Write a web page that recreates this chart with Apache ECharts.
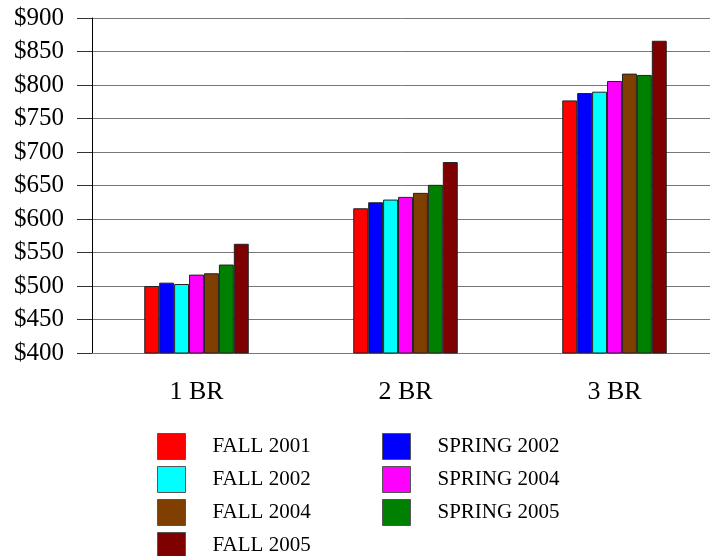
<!DOCTYPE html>
<html>
<head>
<meta charset="utf-8">
<script src="https://cdn.jsdelivr.net/npm/echarts@6/dist/echarts.min.js"></script>
<style>
  html, body { margin: 0; padding: 0; background: #fff; }
  #chart { width: 710px; height: 556px; }
</style>
</head>
<body>
<div id="chart"></div>
<script>
// bedroom size categories
const categories = ['1 BR', '2 BR', '3 BR']

// average rent per survey
const fall2001 = [500, 616, 777]
const spring2002 = [505, 625, 788]
const fall2002 = [503, 629, 790]
const spring2004 = [517, 633, 806]
const fall2004 = [519, 639, 817]
const spring2005 = [532, 651, 815]
const fall2005 = [563, 685, 866]

const seriesNames = ['FALL 2001', 'SPRING 2002', 'FALL 2002', 'SPRING 2004', 'FALL 2004', 'SPRING 2005', 'FALL 2005']
const seriesData = [fall2001, spring2002, fall2002, spring2004, fall2004, spring2005, fall2005]
const colors = ['#ff0000', '#0000ff', '#00ffff', '#ff00ff', '#7f3f00', '#008000', '#7f0000']

const font = 'Liberation Serif, Times New Roman, serif'

const myChart = echarts.init(document.getElementById('chart'))

const legendBase = {
  orient: 'vertical',
  top: 433,
  padding: 0,
  height: 130,
  itemWidth: 28,
  itemHeight: 26,
  itemGap: 6,
  icon: 'rect',
  itemStyle: { borderColor: '#555', borderWidth: 1 },
  textStyle: {
    fontFamily: font,
    fontSize: 21,
    color: '#000',
    padding: [0, 0, 0, 22]
  }
}

const option = {
  animation: false,
  color: colors,
  grid: {
    left: 92,
    top: 18,
    bottom: 203,
    width: 627,
    outerBoundsMode: 'none'
  },
  legend: [
    Object.assign({}, legendBase, { left: 157, data: ['FALL 2001', 'FALL 2002', 'FALL 2004', 'FALL 2005'] }),
    Object.assign({}, legendBase, { left: 382, data: ['SPRING 2002', 'SPRING 2004', 'SPRING 2005'] })
  ],
  xAxis: {
    type: 'category',
    data: categories,
    axisLine: { lineStyle: { color: '#777' } },
    axisTick: { alignWithLabel: true, length: 12, lineStyle: { color: '#333' } },
    axisLabel: {
      margin: 26,
      fontFamily: font,
      fontSize: 26,
      color: '#000'
    }
  },
  yAxis: {
    type: 'value',
    min: 400,
    max: 900,
    interval: 50,
    axisLine: { show: true, lineStyle: { color: '#000' } },
    axisTick: { show: true, length: 15, lineStyle: { color: '#333' } },
    splitLine: { show: true, lineStyle: { color: '#777' } },
    axisLabel: {
      margin: 28,
      fontFamily: font,
      fontSize: 25,
      color: '#000',
      formatter: function(val) {
        return '$' + val
      }
    }
  },
  series: []
}

for (let i = 0; i < seriesNames.length; i++) {
  option.series.push({
    type: 'bar',
    name: seriesNames[i],
    data: seriesData[i],
    barGap: '0%',
    barCategoryGap: '50%',
    itemStyle: { borderColor: '#222', borderWidth: 1 }
  })
}

myChart.setOption(option)
</script>
</body>
</html>
